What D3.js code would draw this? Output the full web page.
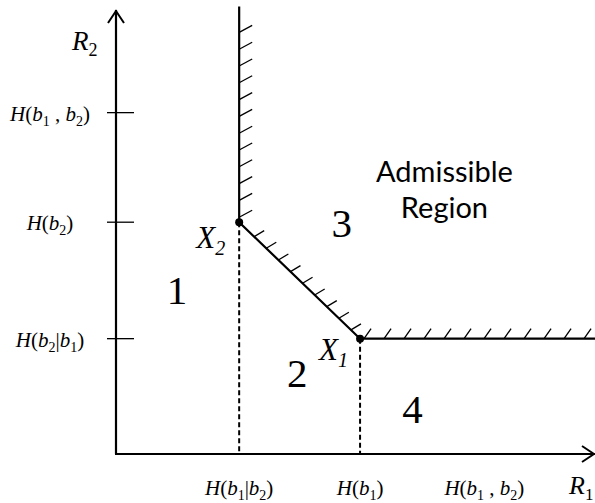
<!DOCTYPE html>
<html>
<head>
<meta charset="utf-8">
<script src="https://cdn.jsdelivr.net/npm/d3@7"></script>
<style>
  html, body { margin: 0; padding: 0; background: #fff; }
  svg { display: block; }
</style>
</head>
<body>
<div id="chart"></div>
<script>
// tick positions (arbitrary entropy units)
const xTickLabels = ["H(b_1|b_2)", "H(b_1)", "H(b_1 , b_2)"];
const xTickValues = [1.08, 2.14, 3.23];
const yTickLabels = ["H(b_2|b_1)", "H(b_2)", "H(b_1 , b_2)"];
const yTickValues = [1.0, 2.01, 2.96];

// corner points of the boundary
const cornerNames = ["X~2", "X~1"];
const cornerX = [1.08, 2.14];
const cornerY = [2.01, 1.0];

// region numbers
const regionNames = ["1", "2", "3", "4"];
const regionX = [0.535, 1.59, 1.98, 2.60];
const regionY = [1.30, 0.58, 1.88, 0.27];

const admissibleLines = ["Admissible", "Region"];
const admissibleX = 2.88;
const admissibleY = [2.36, 2.05];

const width = 595, height = 503;
const xMax = 4.2, yMax = 3.85, boundaryTop = 3.88;

const x = d3.scaleLinear().domain([0, xMax]).range([116, 595]);
const y = d3.scaleLinear().domain([0, yMax]).range([454, 10]);

const svg = d3.select("#chart").append("svg")
  .attr("width", width)
  .attr("height", height);

const serif = "'Liberation Serif', 'Times New Roman', serif";

// write a label with italic letters and subscripts ("_" upright sub, "~" italic sub)
function richText(sel, str, size) {
  const subSize = Math.round(size * 0.66),
        shift = Math.round(size * 0.24);
  let offset = 0;
  for (let i = 0; i < str.length; i++) {
    let c = str[i];
    if (c === "_" || c === "~") {
      const italic = c === "~";
      i++;
      sel.append("tspan")
        .attr("dy", shift - offset)
        .style("font-size", subSize + "px")
        .style("font-style", italic ? "italic" : "normal")
        .text(str[i]);
      offset = shift;
    } else {
      const t = sel.append("tspan")
        .style("font-style", /[A-Za-z]/.test(c) ? "italic" : "normal")
        .text(c);
      if (offset) { t.attr("dy", -offset); offset = 0; }
    }
  }
}

// axes
const g = svg.append("g");
const x0 = x(0), y0 = y(0), xEnd = x(xMax), yEnd = y(yMax);

g.append("line")
  .attr("x1", x0).attr("y1", y0).attr("x2", x0).attr("y2", yEnd)
  .attr("stroke", "#000").attr("stroke-width", 2.2);
g.append("line")
  .attr("x1", x0 - 1).attr("y1", y0).attr("x2", xEnd).attr("y2", y0)
  .attr("stroke", "#000").attr("stroke-width", 2.2);

// arrow heads
g.append("path")
  .attr("d", `M${x0 - 8},${yEnd + 13} L${x0},${yEnd + 1} L${x0 + 8},${yEnd + 13}`)
  .attr("fill", "none").attr("stroke", "#000").attr("stroke-width", 2);
g.append("path")
  .attr("d", `M${xEnd - 13},${y0 - 8} L${xEnd - 1},${y0} L${xEnd - 13},${y0 + 8}`)
  .attr("fill", "none").attr("stroke", "#000").attr("stroke-width", 2);

// y ticks
g.selectAll(".ytick")
  .data(yTickValues)
  .enter().append("line")
  .attr("class", "ytick")
  .attr("x1", x0 - 9).attr("x2", x0 + 18)
  .attr("y1", d => y(d)).attr("y2", d => y(d))
  .attr("stroke", "#000").attr("stroke-width", 1.3);

g.selectAll(".ylab")
  .data(yTickValues)
  .enter().append("text")
  .attr("class", "ylab")
  .attr("x", 50)
  .attr("y", d => y(d) + 8)
  .attr("text-anchor", "middle")
  .style("font-family", serif)
  .style("font-size", "21px")
  .each(function(d, i) { richText(d3.select(this), yTickLabels[i], 21); });

g.selectAll(".xlab")
  .data(xTickValues)
  .enter().append("text")
  .attr("class", "xlab")
  .attr("x", d => x(d))
  .attr("y", 495)
  .attr("text-anchor", "middle")
  .style("font-family", serif)
  .style("font-size", "21px")
  .each(function(d, i) { richText(d3.select(this), xTickLabels[i], 21); });

// axis names
richText(g.append("text").attr("x", x0 - 44).attr("y", yEnd + 40)
  .style("font-family", serif).style("font-size", "27px"), "R_2", 27);
richText(g.append("text").attr("x", xEnd - 26).attr("y", y0 + 40)
  .style("font-family", serif).style("font-size", "26px"), "R_1", 26);

// dashed drop lines
g.selectAll(".drop")
  .data(cornerX)
  .enter().append("line")
  .attr("class", "drop")
  .attr("x1", d => x(d)).attr("x2", d => x(d))
  .attr("y1", (d, i) => y(cornerY[i])).attr("y2", y0)
  .attr("stroke", "#000").attr("stroke-width", 2)
  .attr("stroke-dasharray", "5,3");

// boundary of the admissible region
const boundary = [
  [cornerX[0], boundaryTop],
  [cornerX[0], cornerY[0]],
  [cornerX[1], cornerY[1]],
  [xMax, cornerY[1]]
];
g.append("path")
  .attr("d", d3.line().x(d => x(d[0])).y(d => y(d[1]))(boundary))
  .attr("fill", "none").attr("stroke", "#000").attr("stroke-width", 2.2);

// hatching on the admissible side
const hatch = [];
const pTop = [x(cornerX[0]), y(boundaryTop)],
      pX2 = [x(cornerX[0]), y(cornerY[0])],
      pX1 = [x(cornerX[1]), y(cornerY[1])],
      pEnd = [xEnd, y(cornerY[1])];
for (let yy = pX2[1] - 5; yy > pTop[1] + 20; yy -= 16.8) {
  hatch.push([pX2[0], yy, 13, -7]);
}
for (let k = 1; k <= 9; k++) {
  const t = (15 + (k - 1) * 12.1) / (pX1[0] - pX2[0]);
  hatch.push([pX2[0] + t * (pX1[0] - pX2[0]), pX2[1] + t * (pX1[1] - pX2[1]), 10, -6]);
}
for (let xx = pX1[0] + 4; xx < pEnd[0] - 5; xx += 20) {
  hatch.push([xx, pX1[1], 7, -10]);
}
g.selectAll(".hatch")
  .data(hatch)
  .enter().append("line")
  .attr("class", "hatch")
  .attr("x1", d => d[0]).attr("y1", d => d[1])
  .attr("x2", d => d[0] + d[2]).attr("y2", d => d[1] + d[3])
  .attr("stroke", "#000").attr("stroke-width", 1.3);

// corner points
g.selectAll(".corner")
  .data(cornerX)
  .enter().append("circle")
  .attr("class", "corner")
  .attr("cx", d => x(d))
  .attr("cy", (d, i) => y(cornerY[i]))
  .attr("r", 4)
  .attr("fill", "#000");

const cornerDx = [-14, -12], cornerDy = [26, 21];
g.selectAll(".cornerlab")
  .data(cornerX)
  .enter().append("text")
  .attr("class", "cornerlab")
  .attr("x", (d, i) => x(d) + cornerDx[i])
  .attr("y", (d, i) => y(cornerY[i]) + cornerDy[i])
  .attr("text-anchor", "end")
  .style("font-family", serif)
  .style("font-size", "31px")
  .each(function(d, i) { richText(d3.select(this), cornerNames[i], 31); });

// region numbers
g.selectAll(".region")
  .data(regionNames)
  .enter().append("text")
  .attr("class", "region")
  .attr("x", (d, i) => x(regionX[i]))
  .attr("y", (d, i) => y(regionY[i]))
  .attr("text-anchor", "middle")
  .style("font-family", serif)
  .style("font-size", "41px")
  .text(d => d);

g.selectAll(".adm")
  .data(admissibleLines)
  .enter().append("text")
  .attr("class", "adm")
  .attr("x", x(admissibleX))
  .attr("y", (d, i) => y(admissibleY[i]))
  .attr("text-anchor", "middle")
  .style("font-family", "Lato, 'Open Sans', sans-serif")
  .style("font-size", "29px")
  .text(d => d);
</script>
</body>
</html>
